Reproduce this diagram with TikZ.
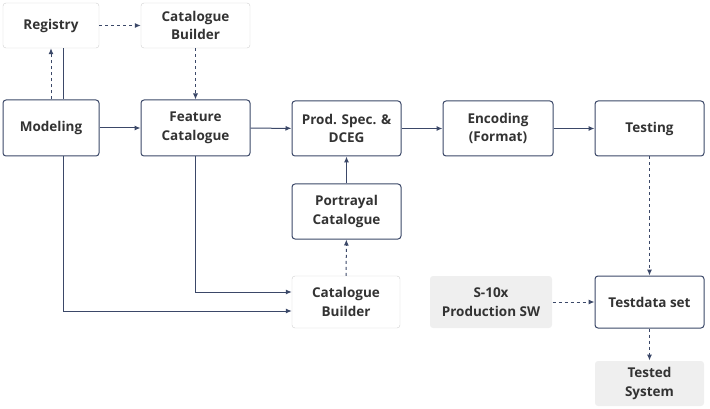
\documentclass[tikz,border=0pt]{standalone}
\usepackage{fontspec}
\setmainfont{Open Sans}
\usetikzlibrary{arrows.meta}
\definecolor{navy}{HTML}{3B4868}
\definecolor{lightline}{HTML}{D0D0D0}
\definecolor{lightfill}{HTML}{EFEFEF}
\begin{document}
\begin{tikzpicture}[x=1pt,y=-1pt]
  \tikzset{block/.style={shape=rectangle,text centered,align=center,rounded corners=3pt,draw=navy,line width=1pt,fill=white,font=\bfseries\fontsize{13.5}{18.5}\selectfont,text=black!80},
    faint/.style={block,draw=lightline,thin},
    shade/.style={block,draw=none,fill=lightfill},
    link/.style={navy,line width=1pt,-{Latex[length=6pt,width=5pt]}},
    dlink/.style={link,dashed}};
  \useasboundingbox (0,0) rectangle (710,409);
  \node[faint,minimum width=96pt,minimum height=45pt](Reg) at (51,25.5){Registry};
  \node[faint,minimum width=109pt,minimum height=45pt](CatTop) at (195.5,25.5){Catalogue\\Builder};
  \node[block,minimum width=96pt,minimum height=56pt](Mod) at (51,128){Modeling};
  \node[block,minimum width=109pt,minimum height=56pt](Feat) at (195.5,128){Feature\\Catalogue};
  \node[block,minimum width=109pt,minimum height=55pt](Spec) at (346.5,128.5){Prod. Spec. \&\\DCEG};
  \node[block,minimum width=110pt,minimum height=55pt](Enc) at (498,128.5){Encoding\\(Format)};
  \node[block,minimum width=109pt,minimum height=55pt](Test) at (649.5,128.5){Testing};
  \node[block,minimum width=109pt,minimum height=55pt](Port) at (346.5,211.5){Portrayal\\Catalogue};
  \node[faint,minimum width=108pt,minimum height=52pt](CatBot) at (346,302){Catalogue\\Builder};
  \node[shade,minimum width=122pt,minimum height=52pt](Prod) at (491,302){S-10x\\Production SW};
  \node[block,minimum width=109pt,minimum height=52pt](Data) at (649.5,302){Testdata set};
  \node[shade,minimum width=109pt,minimum height=45pt](Sys) at (649.5,383.5){Tested\\System};
  \draw[dlink] (Mod.north) -- (Reg.south);
  \draw[navy,line width=1pt] ([xshift=12pt]Reg.south) -- ([xshift=12pt]Mod.north);
  \draw[dlink] (Reg) -- (CatTop);
  \draw[dlink] (CatTop) -- (Feat);
  \draw[link] (Mod) -- (Feat);
  \draw[link] (Feat) -- (Spec);
  \draw[link] (Spec) -- (Enc);
  \draw[link] (Enc) -- (Test);
  \draw[link] (Port) -- (Spec);
  \draw[dlink] (CatBot) -- (Port);
  \draw[link] (Feat.south) |- ([yshift=10pt]CatBot.west);
  \draw[link] ([xshift=12pt]Mod.south) |- ([yshift=-9pt]CatBot.west);
  \draw[dlink] (Test) -- (Data);
  \draw[dlink] (Prod) -- (Data);
  \draw[dlink] (Data) -- (Sys);
\end{tikzpicture}
\end{document}
